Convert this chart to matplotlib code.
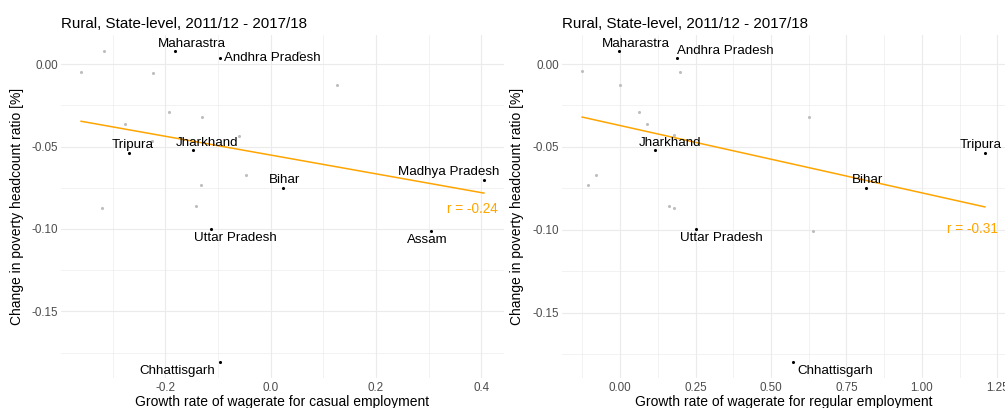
import numpy as np
import matplotlib
matplotlib.use("Agg")
import matplotlib.pyplot as plt
from matplotlib.ticker import MultipleLocator

plt.rcParams['font.family'] = ['Liberation Sans', 'DejaVu Sans']

TITLE = "Rural, State-level, 2011/12 - 2017/18"
YLABEL = "Change in poverty headcount ratio [%]"

# ---- Left panel: casual employment ----
casual_names = ["Maharastra", "Andhra Pradesh", "Tripura", "Jharkhand", "Bihar",
                "Madhya Pradesh", "Uttar Pradesh", "Assam", "Chhattisgarh"]
casual_x = [-0.182, -0.096, -0.270, -0.147, 0.0235, 0.405, -0.114, 0.304, -0.097]
casual_y = [0.0081, 0.0037, -0.0537, -0.052, -0.0752, -0.0701, -0.100, -0.101, -0.181]
casual_other_x = [-0.317, -0.360, -0.223, 0.053, 0.126, -0.194, -0.131, -0.276,
                  -0.226, -0.060, -0.047, -0.132, -0.321, -0.141]
casual_other_y = [0.0083, -0.0045, -0.0051, 0.0077, -0.0126, -0.0291, -0.0321, -0.0362,
                  -0.0463, -0.0433, -0.067, -0.0732, -0.0872, -0.086]
# fitted line values at the smallest and largest x
casual_fit_y = [-0.0346, -0.0782]
casual_r = "r = -0.24"

# ---- Right panel: regular employment ----
regular_names = ["Maharastra", "Andhra Pradesh", "Jharkhand", "Tripura", "Bihar",
                 "Uttar Pradesh", "Chhattisgarh"]
regular_x = [-0.004, 0.187, 0.117, 1.209, 0.815, 0.252, 0.574]
regular_y = [0.0081, 0.0036, -0.0518, -0.0534, -0.0748, -0.0995, -0.180]
regular_other_x = [-0.126, 0.198, 0.0, 0.061, 0.627, 0.088, 0.180, -0.079, -0.107,
                   0.163, 0.180, 0.638]
regular_other_y = [-0.0044, -0.0050, -0.0126, -0.0289, -0.0320, -0.036, -0.0431,
                   -0.0667, -0.0728, -0.0856, -0.0868, -0.1005]
regular_fit_y = [-0.0320, -0.0862]
regular_r = "r = -0.31"

# label offsets in pixels (dx, dy up), and horizontal alignment
casual_offsets = {
    "Maharastra": (17, 7, 'center'), "Andhra Pradesh": (4, 0, 'left'),
    "Tripura": (4, 8, 'center'), "Jharkhand": (14, 7, 'center'),
    "Bihar": (2, 8, 'center'), "Madhya Pradesh": (-35, 8, 'center'),
    "Uttar Pradesh": (25, -9, 'center'), "Assam": (-3, -9, 'center'),
    "Chhattisgarh": (-42, -9, 'center'),
}
regular_offsets = {
    "Maharastra": (17, 7, 'center'), "Andhra Pradesh": (0, 7, 'left'),
    "Jharkhand": (15, 7, 'center'), "Tripura": (-4, 8, 'center'),
    "Bihar": (2, 8, 'center'), "Uttar Pradesh": (25, -9, 'center'),
    "Chhattisgarh": (42, -9, 'center'),
}

ORANGE = "#FFA500"
GRID = "#EBEBEB"

fig = plt.figure(figsize=(10.05, 4.08), dpi=100)
axL = fig.add_axes([61 / 1005, 30 / 408, 443 / 1005, 343 / 408])
axR = fig.add_axes([562 / 1005, 30 / 408, 443 / 1005, 343 / 408])


def panel(ax, nx, ny, names, ox, oy, fit_y, offsets, rtext, r_y, xlabel, xmaj, xfmt):
    allx = np.array(list(nx) + list(ox))
    ally = np.array(list(ny) + list(oy))
    # ggplot-like 5% expansion
    xr = allx.max() - allx.min()
    yr = ally.max() - ally.min()
    ax.set_xlim(allx.min() - 0.05 * xr, allx.max() + 0.05 * xr)
    ax.set_ylim(ally.min() - 0.05 * yr, ally.max() + 0.05 * yr)

    ax.xaxis.set_major_locator(MultipleLocator(xmaj))
    ax.xaxis.set_minor_locator(MultipleLocator(xmaj / 2))
    ax.yaxis.set_major_locator(MultipleLocator(0.05))
    ax.yaxis.set_minor_locator(MultipleLocator(0.025))
    ax.xaxis.set_major_formatter(xfmt)
    ax.yaxis.set_major_formatter(lambda v, p: f"{v:.2f}")
    ax.grid(True, which='major', color=GRID, lw=0.8, zorder=0)
    ax.grid(True, which='minor', color=GRID, lw=0.45, zorder=0)
    ax.set_axisbelow(True)
    for s in ax.spines.values():
        s.set_visible(False)
    ax.tick_params(which='both', length=0, labelsize=8.4, labelcolor='#4D4D4D')
    ax.tick_params(axis='x', pad=3)
    ax.tick_params(axis='y', pad=2)

    ax.scatter(ox, oy, s=5, color='#BEBEBE', linewidths=0, zorder=2)
    ax.scatter(nx, ny, s=5, color='black', linewidths=0, zorder=3)

    xs = [allx.min(), allx.max()]
    ax.plot(xs, fit_y, color=ORANGE, lw=1.1, zorder=4)

    for n, x, y in zip(names, nx, ny):
        dx, dy, ha = offsets[n]
        ax.annotate(n, (x, y), xytext=(dx, dy), textcoords='offset pixels',
                    ha=ha, va='center', fontsize=9.6, color='black', zorder=5)

    ax.text(0.985, r_y, rtext, transform=ax.get_yaxis_transform(), ha='right',
            va='center', fontsize=9.8, color=ORANGE, zorder=5)

    ax.set_title(TITLE, loc='left', fontsize=10.9, pad=4.8)
    ax.set_xlabel(xlabel, fontsize=10)
    ax.set_ylabel(YLABEL, fontsize=10)
    ax.xaxis.set_label_coords(0.5, -0.069)
    ax.xaxis.label.set_va('center')
    ax.yaxis.label.set_va('center')


panel(axL, casual_x, casual_y, casual_names, casual_other_x, casual_other_y,
      casual_fit_y, casual_offsets, casual_r, -0.0878,
      "Growth rate of wagerate for casual employment", 0.2,
      lambda v, p: f"{v:.1f}")
axL.yaxis.set_label_coords(-0.0993, 0.5)

panel(axR, regular_x, regular_y, regular_names, regular_other_x, regular_other_y,
      regular_fit_y, regular_offsets, regular_r, -0.0995,
      "Growth rate of wagerate for regular employment", 0.25,
      lambda v, p: f"{v:.2f}")
axR.yaxis.set_label_coords(-0.1005, 0.5)

fig.savefig("out.png", dpi=100)
